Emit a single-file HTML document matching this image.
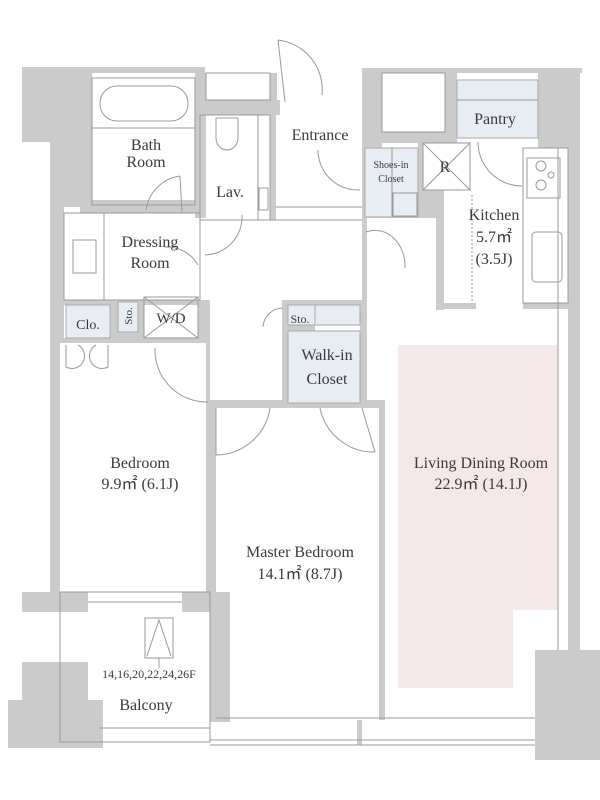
<!DOCTYPE html>
<html><head><meta charset="utf-8"><style>
html,body{margin:0;padding:0;background:#fff;width:600px;height:800px;overflow:hidden}
svg{display:block}
text{font-family:"Liberation Serif",serif;fill:#3a3a3a;text-anchor:middle}
</style></head><body>
<svg width="600" height="800" viewBox="0 0 600 800" xmlns="http://www.w3.org/2000/svg">
<g fill="#cbcbcb" stroke="none">
<!-- top left band & block -->
<rect x="22" y="67" width="183" height="6"/>
<rect x="22" y="73" width="70" height="69"/>
<rect x="50" y="142" width="42" height="65"/>
<rect x="80" y="200" width="120" height="13"/>
<rect x="50" y="207" width="14" height="136"/>
<rect x="50" y="343" width="10" height="250"/>
<!-- lav walls -->
<rect x="195" y="73" width="11" height="145"/>
<rect x="195" y="100" width="85" height="15"/>
<rect x="270" y="73" width="7" height="42"/>
<rect x="270" y="115" width="6" height="105"/>
<!-- clo band -->
<rect x="60" y="300" width="150" height="5"/>
<rect x="60" y="338" width="150" height="5"/>
<rect x="110" y="300" width="34" height="43"/>
<rect x="198" y="300" width="12" height="43"/>
<!-- bedroom right wall -->
<rect x="206" y="343" width="4" height="250"/>
<!-- entrance / shoes -->
<rect x="362" y="68" width="20" height="150"/>
<rect x="382" y="68" width="200" height="5"/>
<rect x="382" y="132" width="75" height="11"/>
<rect x="445" y="68" width="12" height="75"/>
<rect x="538" y="68" width="42" height="80"/>
<rect x="418" y="143" width="5" height="75"/>
<rect x="362" y="190" width="78" height="28"/>
<rect x="436" y="190" width="8" height="120"/>
<rect x="436" y="303" width="40" height="6"/>
<rect x="523" y="303" width="45" height="6"/>
<rect x="568" y="140" width="12" height="510"/>
<rect x="362" y="218" width="5" height="90"/>
<!-- hall / closets -->
<rect x="282" y="300" width="85" height="5"/>
<rect x="282" y="300" width="6" height="105"/>
<rect x="360" y="300" width="7" height="105"/>
<rect x="282" y="325" width="33" height="6"/>
<rect x="210" y="400" width="175" height="8"/>
<rect x="379" y="400" width="6" height="320"/>
<rect x="210" y="400" width="6" height="320"/>
<!-- bottom -->
<rect x="22" y="592" width="66" height="20"/>
<rect x="182" y="592" width="48" height="20"/>
<rect x="210" y="592" width="20" height="130"/>
<rect x="22" y="662" width="66" height="86"/>
<rect x="8" y="700" width="95" height="48"/>
<rect x="535" y="650" width="65" height="110"/>
<rect x="580" y="650" width="20" height="10"/>
<rect x="357" y="720" width="5" height="25"/>
</g>
<!-- light blue areas -->
<g fill="#e7edf3" stroke="#aaa" stroke-width="1">
<rect x="66" y="305" width="44" height="33"/>
<rect x="118" y="302" width="20" height="30"/>
<rect x="288" y="305" width="27" height="20"/>
<rect x="315" y="305" width="45" height="20"/>
<rect x="288" y="331" width="72" height="72"/>
<rect x="365" y="148" width="53" height="69"/>
<rect x="457" y="80" width="81" height="58"/>
</g>
<!-- pink -->
<path d="M398 345 H558 V610 H513 V688 H398 Z" fill="#f5e8e8"/>
<!-- thin lines -->
<g fill="none" stroke="#999" stroke-width="1">
<rect x="92" y="78" width="103" height="127"/>
<line x1="92" y1="128" x2="195" y2="128"/>
<rect x="100" y="86" width="88" height="35" rx="17"/>
<rect x="206" y="73" width="64" height="27"/>
<rect x="200" y="115" width="70" height="105"/>
<line x1="258" y1="115" x2="258" y2="220"/>
<rect x="259" y="188" width="9" height="22"/>
<path d="M216 118 h22 v20 a11 12 0 0 1 -22 0z"/>
<rect x="64" y="213" width="136" height="87"/>
<line x1="104" y1="213" x2="104" y2="300"/>
<rect x="73" y="240" width="23" height="33"/>
<rect x="144" y="297" width="54" height="41"/>
<line x1="144" y1="297" x2="198" y2="338"/><line x1="198" y1="297" x2="144" y2="338"/>
<rect x="382" y="73" width="63" height="59"/>
<line x1="457" y1="100" x2="538" y2="100"/>
<rect x="423" y="143" width="47" height="47"/>
<line x1="423" y1="143" x2="470" y2="190"/><line x1="470" y1="143" x2="423" y2="190"/>
<line x1="392" y1="148" x2="392" y2="217"/>
<rect x="393" y="193" width="24" height="23"/>
<rect x="523" y="148" width="45" height="155"/>
<rect x="527" y="158" width="33" height="40"/>
<circle cx="541" cy="166" r="5"/><circle cx="541" cy="185" r="5"/><circle cx="551" cy="175" r="3"/>
<rect x="532" y="232" width="30" height="50" rx="4"/>
<line x1="472" y1="195" x2="472" y2="303" stroke-dasharray="2 2"/>
<line x1="276" y1="207" x2="362" y2="207"/>
<line x1="210" y1="220" x2="362" y2="220"/>
<rect x="60" y="592" width="150" height="150"/>
<line x1="88" y1="602" x2="182" y2="602"/>
<rect x="145" y="618" width="28" height="40"/>
<path d="M147 656 L159 620 L171 656 M159 658 v10"/>
<line x1="100" y1="728" x2="210" y2="728"/>
<line x1="210" y1="745" x2="535" y2="745"/>
<line x1="210" y1="740" x2="535" y2="740"/>
<line x1="367" y1="718" x2="535" y2="718"/>
<line x1="216" y1="718" x2="379" y2="718"/>
<line x1="558" y1="148" x2="558" y2="650"/>
<!-- doors -->
<path d="M180 176 A40 40 0 0 0 146 210"/><line x1="180" y1="176" x2="182" y2="213"/>
<path d="M242 215 A38 38 0 0 1 205 255"/><line x1="242" y1="215" x2="242" y2="220"/>
<path d="M165 247 A36 36 0 0 1 198 265"/>
<path d="M278 40 A50 50 0 0 1 322 95"/><line x1="278" y1="40" x2="285" y2="102"/>
<path d="M318 150 A40 40 0 0 0 360 190"/>
<path d="M366 232 A30 36 0 0 1 405 268"/><line x1="366" y1="260" x2="405" y2="268" stroke="none"/>
<path d="M478 142 A44 44 0 0 0 522 186"/>
<path d="M155 348 A52 52 0 0 0 208 402"/>
<path d="M66 345 v22 a12 12 0 0 0 12 -22 M108 345 v22 a12 12 0 0 1 -12 -22"/>
<path d="M263 327 A20 20 0 0 1 283 308"/>
<path d="M216 455 A55 55 0 0 0 270 408"/><line x1="216" y1="455" x2="216" y2="408"/>
<path d="M320 408 A55 55 0 0 0 375 452"/><line x1="375" y1="452" x2="362" y2="408"/>
</g>
<g font-size="16">
<text x="146" y="150">Bath</text><text x="146" y="167">Room</text>
<text x="230" y="197">Lav.</text>
<text x="320" y="140">Entrance</text>
<text x="150" y="247">Dressing</text><text x="150" y="268">Room</text>
<text x="88" y="329" font-size="14">Clo.</text>
<text x="171" y="323" font-size="15">W/D</text>
<text x="495" y="124">Pantry</text>
<text x="445" y="172">R</text>
<text x="494" y="220">Kitchen</text><text x="494" y="242">5.7㎡</text><text x="494" y="264">(3.5J)</text>
<text x="327" y="360">Walk-in</text><text x="327" y="384">Closet</text>
<text x="140" y="468">Bedroom</text><text x="140" y="489">9.9㎡  (6.1J)</text>
<text x="481" y="468">Living Dining Room</text><text x="481" y="489">22.9㎡  (14.1J)</text>
<text x="300" y="557">Master Bedroom</text><text x="300" y="579">14.1㎡  (8.7J)</text>
<text x="146" y="710">Balcony</text>
</g>
<text x="391" y="168" font-size="10">Shoes-in</text><text x="391" y="182" font-size="10">Closet</text>
<text x="300" y="323" font-size="12">Sto.</text>
<text x="149" y="678" font-size="12">14,16,20,22,24,26F</text>
<text x="132" y="316" font-size="11" transform="rotate(-90 132 316)">Sto.</text>
</svg>
</body></html>
